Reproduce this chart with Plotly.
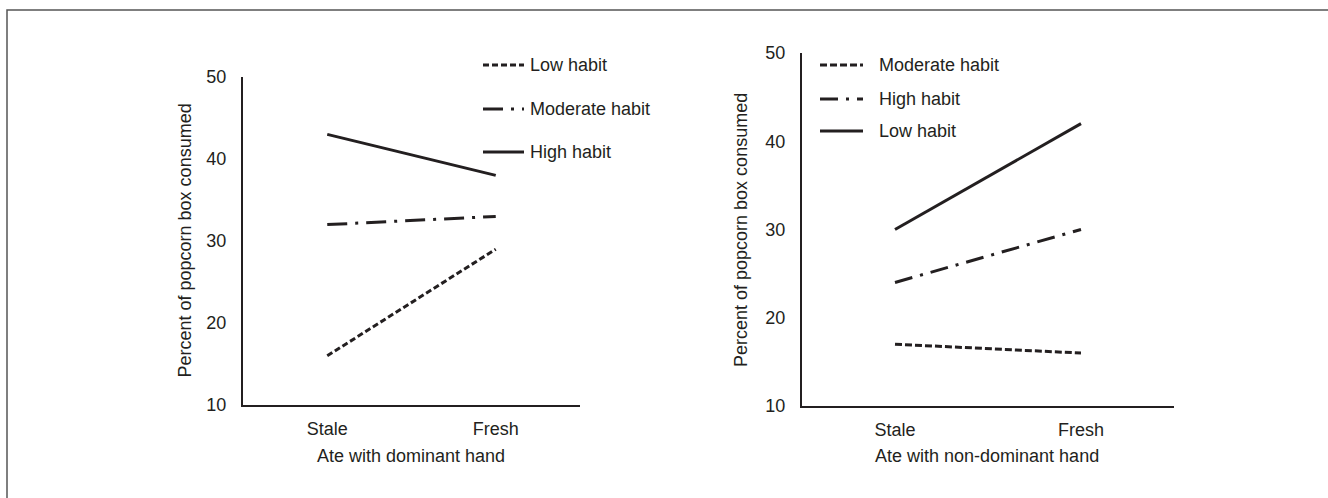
import plotly.graph_objects as go

# ---------------- data ----------------
categories = ["Stale", "Fresh"]

# Left panel: ate with dominant hand
left_low = [16, 29]
left_moderate = [32, 33]
left_high = [43, 38]

# Right panel: ate with non-dominant hand
right_moderate = [17, 16]
right_high = [24, 30]
right_low = [30, 42]

y_ticks = [10, 20, 30, 40, 50]

# ---------------- styling ----------------
W, H = 1328, 498
INK = "#231f20"
FONT = "Liberation Sans, Arial, sans-serif"
FS = 18

# the viewer draws the figure slightly inset vertically; compensate
V_OFF, V_H = 10, 478


def px(x):
    return x / W


def py(y):
    return 1 - (y - V_OFF) / V_H


fig = go.Figure()

LW = 3
dash_left_low = "6px,3px"
dash_left_mod = "20px,8px,3px,8px"
dash_right_mod = "7px,3px"
dash_right_high = "18px,8px,3px,8px"

left_series = [
    ("Low habit", left_low, dash_left_low),
    ("Moderate habit", left_moderate, dash_left_mod),
    ("High habit", left_high, "solid"),
]
right_series = [
    ("Moderate habit", right_moderate, dash_right_mod),
    ("High habit", right_high, dash_right_high),
    ("Low habit", right_low, "solid"),
]

for name, vals, dash in left_series:
    fig.add_trace(go.Scatter(x=categories, y=vals, mode="lines", name=name,
                             line=dict(color=INK, width=LW, dash=dash),
                             xaxis="x", yaxis="y", showlegend=False))
for name, vals, dash in right_series:
    fig.add_trace(go.Scatter(x=categories, y=vals, mode="lines", name=name,
                             line=dict(color=INK, width=LW, dash=dash),
                             xaxis="x2", yaxis="y2", showlegend=False))

axis_common = dict(showline=True, linecolor=INK, linewidth=2, showgrid=False,
                   zeroline=False, ticks="", tickfont=dict(family=FONT, size=FS, color=INK))

fig.update_layout(
    width=W, height=H,
    margin=dict(l=0, r=0, t=0, b=0),
    paper_bgcolor="white", plot_bgcolor="white",
    font=dict(family=FONT, size=FS, color=INK),
    xaxis=dict(domain=[px(243), px(580)], anchor="y", type="category",
               range=[-0.5, 1.5], ticklabelstandoff=6, **axis_common),
    yaxis=dict(domain=[py(405), py(77)], anchor="x", range=[10, 50],
               tickvals=y_ticks, ticklabelstandoff=11, **axis_common),
    xaxis2=dict(domain=[px(802), px(1174)], anchor="y2", type="category",
                range=[-0.5, 1.5], ticklabelstandoff=6, **axis_common),
    yaxis2=dict(domain=[py(406), py(53)], anchor="x2", range=[10, 50],
                tickvals=y_ticks, ticklabelstandoff=11, **axis_common),
)

# outer frame
fig.add_shape(type="rect", xref="paper", yref="paper",
              x0=px(7), x1=px(W + 20), y0=py(H + 30), y1=py(10),
              line=dict(color="#555555", width=1.5), fillcolor="rgba(0,0,0,0)")

# axis titles
ann = []
ann.append(dict(text="Percent of popcorn box consumed", x=px(185), y=py(240.5),
                textangle=-90))
ann.append(dict(text="Percent of popcorn box consumed", x=px(741), y=py(230),
                textangle=-90))
ann.append(dict(text="Ate with dominant hand", x=px(411), y=py(455.5)))
ann.append(dict(text="Ate with non-dominant hand", x=px(987), y=py(455.5)))
for a in ann:
    fig.add_annotation(xref="paper", yref="paper", showarrow=False,
                       xanchor="center", yanchor="middle",
                       font=dict(family=FONT, size=FS, color=INK), **a)

# legends (drawn manually to mimic the original key layout)
left_key_y = [65, 109, 152]
right_key_y = [65, 99, 131]
for (name, _, dash), yy in zip(left_series, left_key_y):
    fig.add_shape(type="line", xref="paper", yref="paper",
                  x0=px(483), x1=px(524), y0=py(yy), y1=py(yy),
                  line=dict(color=INK, width=LW, dash=dash))
    fig.add_annotation(xref="paper", yref="paper", showarrow=False, text=name,
                       x=px(528), y=py(yy), xanchor="left", yanchor="middle",
                       font=dict(family=FONT, size=FS, color=INK))
for (name, _, dash), yy in zip(right_series, right_key_y):
    fig.add_shape(type="line", xref="paper", yref="paper",
                  x0=px(820), x1=px(863), y0=py(yy), y1=py(yy),
                  line=dict(color=INK, width=LW, dash=dash))
    fig.add_annotation(xref="paper", yref="paper", showarrow=False, text=name,
                       x=px(877), y=py(yy), xanchor="left", yanchor="middle",
                       font=dict(family=FONT, size=FS, color=INK))

fig.write_html(
    "out.html",
    config={"responsive": False, "displayModeBar": False},
    post_script="document.body.style.margin='0px';"
                "document.documentElement.style.overflow='hidden';"
                "document.body.style.overflow='hidden';",
)
